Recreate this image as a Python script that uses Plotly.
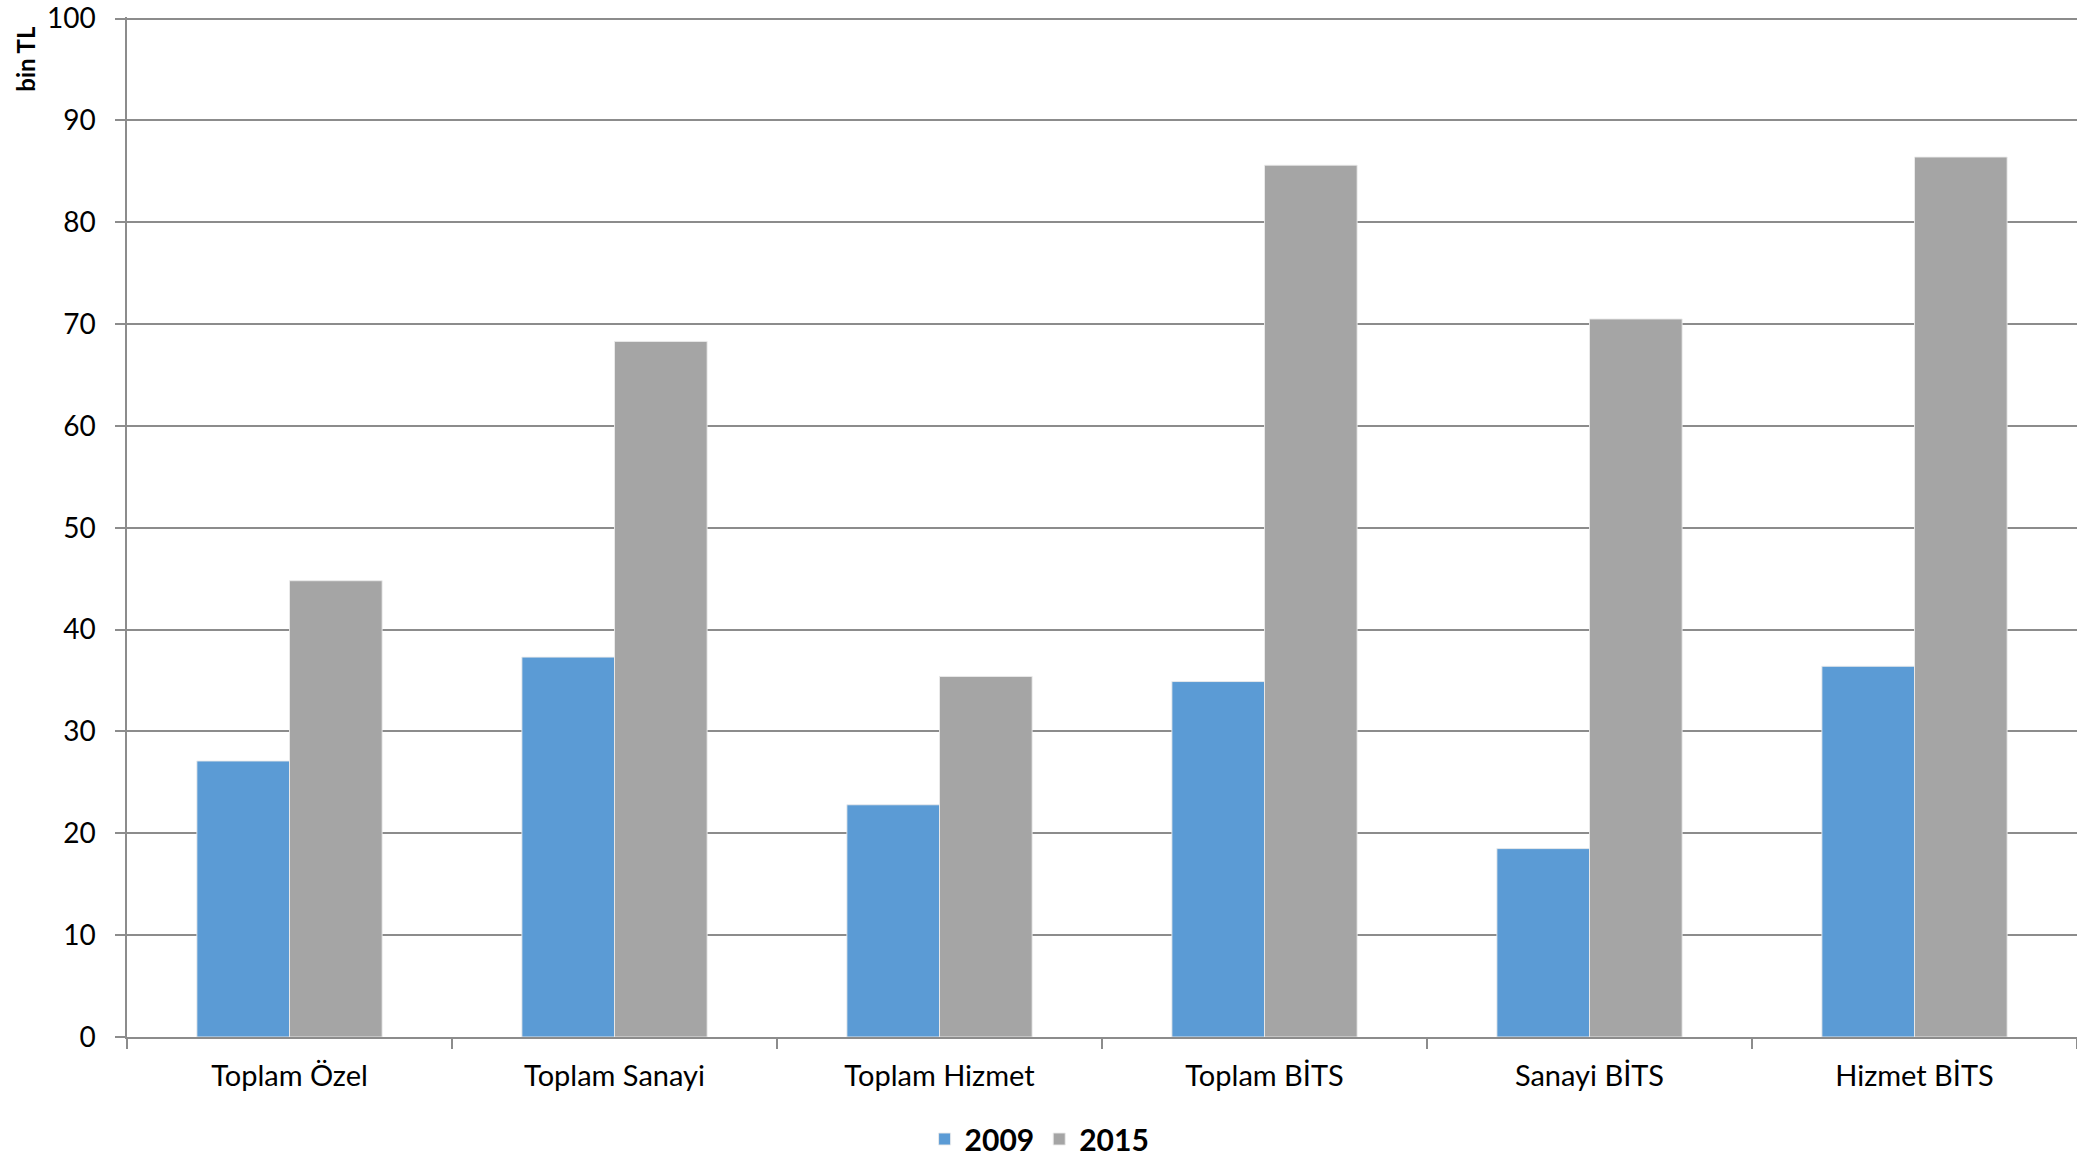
import plotly.graph_objects as go

categories = ["Toplam Özel", "Toplam Sanayi", "Toplam Hizmet", "Toplam BİTS", "Sanayi BİTS", "Hizmet BİTS"]
series_names = ["2009", "2015"]
values_2009 = [27.1, 37.3, 22.8, 34.9, 18.5, 36.4]
values_2015 = [44.8, 68.3, 35.4, 85.6, 70.5, 86.4]
y_ticks = [0, 10, 20, 30, 40, 50, 60, 70, 80, 90, 100]

FONT = "Lato"
fig = go.Figure()
fig.add_trace(go.Bar(name=series_names[0], x=categories, y=values_2009,
                     marker=dict(color="#5B9BD5", line=dict(color="rgba(235,235,235,0.9)", width=1))))
fig.add_trace(go.Bar(name=series_names[1], x=categories, y=values_2015,
                     marker=dict(color="#A5A5A5", line=dict(color="rgba(235,235,235,0.9)", width=1))))

fig.update_layout(
    width=2077, height=1159,
    margin=dict(l=127, r=0, t=17, b=122, autoexpand=False),
    paper_bgcolor="white", plot_bgcolor="white",
    barmode="group", bargap=0.43, bargroupgap=0,
    font=dict(family=FONT, size=29, color="black"),
    showlegend=True,
    legend=dict(orientation="h", x=0.468, xanchor="center", y=-0.1, yanchor="middle",
                font=dict(family=FONT, size=30, color="black", weight="bold"),
                itemwidth=30, traceorder="normal"),
    xaxis=dict(showline=True, linecolor="#8c8c8c", linewidth=1.5, automargin=False,
               ticks="outside", tickson="boundaries", ticklen=10, tickcolor="#8c8c8c", tickwidth=1.5,
               tickfont=dict(family=FONT, size=29), showgrid=False, ticklabelstandoff=12),
    yaxis=dict(range=[0, 100.15], tickvals=y_ticks, showline=True, linecolor="#8c8c8c", linewidth=1.5,
               automargin=False, ticklabeloverflow="allow",
               ticks="outside", ticklen=10, tickcolor="#8c8c8c", tickwidth=1.5,
               gridcolor="#8c8c8c", gridwidth=1.5, zeroline=False,
               tickfont=dict(family=FONT, size=28), ticklabelstandoff=14),
)
fig.add_annotation(text="<b>bin TL</b>", textangle=-90, xref="paper", yref="paper",
                   x=-0.052, y=0.993, xanchor="center", yanchor="top", showarrow=False,
                   font=dict(family=FONT, size=24, color="black"))
fig.write_html("out.html", config={"displayModeBar": False},
               post_script="document.body.style.margin='0';document.body.style.padding='0';")
